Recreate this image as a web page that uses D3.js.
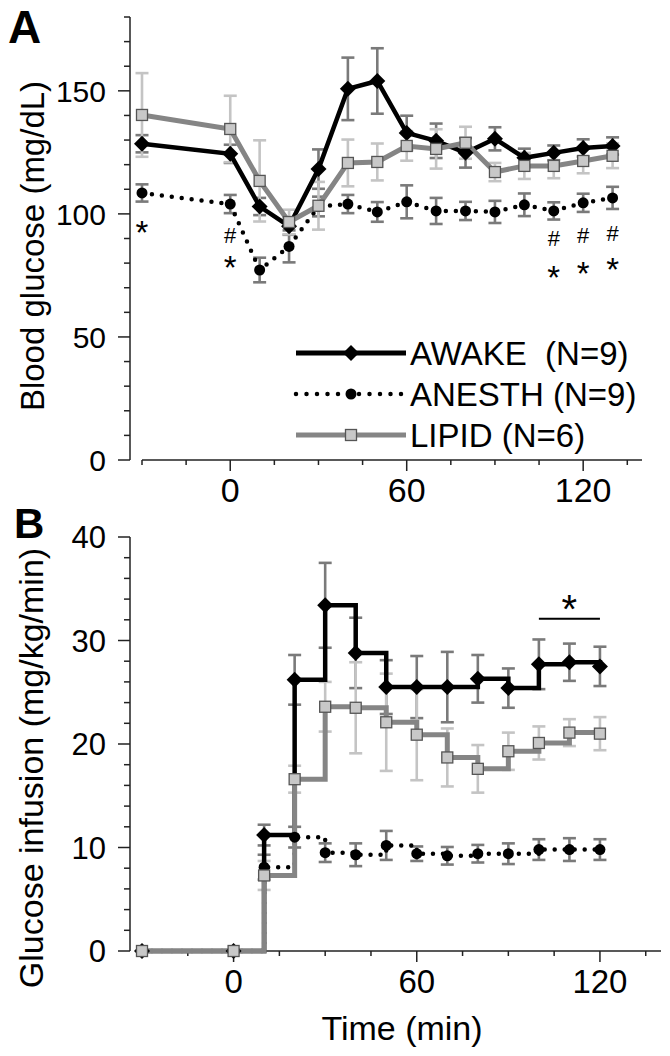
<!DOCTYPE html>
<html>
<head>
<meta charset="utf-8">
<script src="https://cdn.jsdelivr.net/npm/d3@7"></script>
<style>
  html, body { margin: 0; padding: 0; background: #fff; }
  text { font-family: "Liberation Sans", Arial, sans-serif; fill: #000; }
</style>
</head>
<body>
<svg id="chart" width="670" height="1056"></svg>
<script>
// ---------------- DATA ----------------
const seriesNames = ["AWAKE  (N=9)", "ANESTH (N=9)", "LIPID (N=6)"];

// Panel A: blood glucose (mg/dL)
const timesA = [-30, 0, 10, 20, 30, 40, 50, 60, 70, 80, 90, 100, 110, 120, 130];
const awakeA = [128.5, 124.4, 103, 95, 118.2, 150.8, 154, 132.9, 129.7, 124.8, 130.5, 122.8, 124.8, 126.8, 127.6];
const awakeAErr = [3.5, 3.7, 3.5, 3.5, 8, 12.7, 13.3, 7, 7, 6, 4.7, 3.7, 3, 3.5, 3.5];
const lipidA = [140.2, 134.5, 113.4, 96.7, 103.3, 120.7, 121.1, 127.6, 126.4, 128.9, 117, 119.5, 119.5, 121.5, 123.6];
const lipidAErr = [17, 13.5, 16.5, 5, 9.7, 9.5, 7.5, 6, 8, 6.5, 3.7, 5.3, 5, 5, 5];
const anesthA = [108.5, 104, 77.2, 86.8, 103, 104, 100.8, 104.9, 101.2, 101.2, 100.8, 103.7, 101.2, 104.5, 106.5];
const anesthAErr = [3.5, 3.7, 5, 6.5, 4, 3.7, 4, 6.7, 5.3, 3.7, 4.5, 4.6, 3.5, 3.7, 4.5];

// Panel B: glucose infusion (mg/kg/min)
const timesB = [-30, 0, 10, 20, 30, 40, 50, 60, 70, 80, 90, 100, 110, 120];
const awakeB = [0, 0, 11.2, 26.2, 33.4, 28.8, 25.5, 25.5, 25.5, 26.3, 25.4, 27.7, 27.9, 27.5];
const awakeBErr = [0, 0, 1.0, 2.4, 4.1, 3.4, 2.6, 3, 3.4, 2.3, 1.9, 2.4, 1.8, 1.9];
const lipidB = [0, 0, 7.3, 16.6, 23.6, 23.5, 22.1, 20.9, 18.7, 17.6, 19.3, 20.1, 21.1, 21.0];
const lipidBErr = [0, 0, 1.4, 1.3, 2.4, 4.4, 4.7, 4.4, 2.8, 2.3, 1.8, 1.6, 1.3, 1.6];
const anesthB = [0, 0, 8.1, 11.0, 9.5, 9.3, 10.2, 9.4, 9.2, 9.4, 9.4, 9.8, 9.8, 9.8];
const anesthBErr = [0, 0, 1.2, 1.0, 0.9, 1.1, 1.4, 0.7, 0.85, 0.85, 1.0, 1.0, 1.1, 1.0];

// tick values
const xTickValues = [-30, -15, 0, 15, 30, 45, 60, 75, 90, 105, 120, 135];
const xTickLabels = [0, 60, 120];
const yTickLabelsA = [0, 50, 100, 150];
const yTickLabelsB = [0, 10, 20, 30, 40];

// annotations [time, value, symbol]
const annotA = [[-30, 95.5, "*"], [0, 91.2, "#"], [0, 81.3, "*"],
                [110, 90.0, "#"], [120, 91.3, "#"], [130, 92.3, "#"],
                [110, 77.2, "*"], [120, 79.0, "*"], [130, 80.5, "*"]];
const sigBarB = [100, 120, 32.1];   // from, to, level
const sigStarB = [110, 33.9, "*"];

// ---------------- DRAW ----------------
const svg = d3.select("#chart");
svg.append("rect").attr("width", 670).attr("height", 1056).attr("fill", "#fff");

const DARK = "#7a7a7a", LIGHT = "#c4c4c4", LIPIDLINE = "#858585";

const diamond = (s) => `M0,${-s}L${s},0L0,${s}L${-s},0Z`;

function drawMarker(g, kind, x, y) {
  if (kind === "awake") {
    g.append("path").attr("d", diamond(8)).attr("transform", `translate(${x},${y})`)
      .attr("fill", "#000");
  } else if (kind === "lipid") {
    g.append("rect").attr("x", x - 5.5).attr("y", y - 5.5).attr("width", 11).attr("height", 11)
      .attr("fill", "#c8c8c8").attr("stroke", "#555").attr("stroke-width", 1.3);
  } else {
    g.append("circle").attr("cx", x).attr("cy", y).attr("r", 5.5).attr("fill", "#000");
  }
}

function panel(opts) {
  const { x, y, times, series, yMax, yMinorStep, yLabels, curve, tickFont } = opts;
  const g = svg.append("g");

  // y axis
  const yAx = g.append("g").attr("transform", `translate(130,0)`);
  yAx.append("line").attr("x1", 0).attr("x2", 0).attr("y1", y(0)).attr("y2", y(yMax))
    .attr("stroke", "#222").attr("stroke-width", 1.5);
  d3.range(0, yMax + 0.001, yMinorStep).forEach(v => {
    const major = yLabels.includes(v);
    yAx.append("line").attr("x1", major ? -12 : -6).attr("x2", 0)
      .attr("y1", y(v)).attr("y2", y(v)).attr("stroke", "#222").attr("stroke-width", 1.5);
  });
  yLabels.forEach(v => {
    yAx.append("text").attr("x", -24).attr("y", y(v)).attr("dy", "0.36em")
      .attr("text-anchor", "end").style("font-size", opts.yFont + "px").text(v);
  });

  // x axis
  const y0 = y(0);
  const xAx = g.append("g");
  xAx.append("line").attr("x1", x(-30)).attr("x2", x.range()[1]).attr("y1", y0).attr("y2", y0)
    .attr("stroke", "#222").attr("stroke-width", 1.5);
  xTickValues.forEach(t => {
    const major = xTickLabels.includes(t);
    xAx.append("line").attr("x1", x(t)).attr("x2", x(t)).attr("y1", y0).attr("y2", y0 + (major ? 11 : 5))
      .attr("stroke", "#222").attr("stroke-width", 1.5);
  });
  xTickLabels.forEach(t => {
    xAx.append("text").attr("x", x(t)).attr("y", y0 + 42).attr("text-anchor", "middle")
      .style("font-size", tickFont + "px").text(t);
  });

  const line = d3.line().x(d => x(d[0])).y(d => y(d[1])).curve(curve);
  const prepared = series.map(s => ({ s, pts: times.map((t, i) => [t, s.values[i], s.err[i]]) }));

  // layer 1: error bars
  prepared.forEach(({ s, pts }) => {
    pts.forEach(p => {
      if (!p[2]) return;
      const cx = x(p[0]), top = y(p[1] + p[2]), bot = y(p[1] - p[2]);
      g.append("line").attr("x1", cx).attr("x2", cx).attr("y1", top).attr("y2", bot)
        .attr("stroke", s.errColor).attr("stroke-width", 2.6);
      [top, bot].forEach(yy => g.append("line").attr("x1", cx - 6.5).attr("x2", cx + 6.5)
        .attr("y1", yy).attr("y2", yy).attr("stroke", s.errColor).attr("stroke-width", 2.6));
    });
  });
  // layer 2: lines
  prepared.forEach(({ s, pts }) => {
    const path = g.append("path").attr("d", line(pts)).attr("fill", "none")
      .attr("stroke", s.color).attr("stroke-width", s.width).attr("stroke-linejoin", "miter");
    if (s.dotted) path.attr("stroke-dasharray", "0 10").attr("stroke-linecap", "round");
  });
  // layer 3: markers
  prepared.forEach(({ s, pts }) => {
    pts.forEach(p => drawMarker(g, s.kind, x(p[0]), y(p[1])));
  });
  return g;
}

// ----- Panel A -----
const xA = d3.scaleLinear().domain([-30, 140]).range([142, 642]);
const yA = d3.scaleLinear().domain([0, 180]).range([460, 17]);
panel({
  x: xA, y: yA, times: timesA, yMax: 180, yMinorStep: 10, yLabels: yTickLabelsA,
  curve: d3.curveLinear, tickFont: 34, yFont: 30,
  series: [
    { kind: "anesth", values: anesthA, err: anesthAErr, color: "#000", width: 4.5, errColor: DARK, dotted: true },
    { kind: "awake", values: awakeA, err: awakeAErr, color: "#000", width: 4.5, errColor: DARK },
    { kind: "lipid", values: lipidA, err: lipidAErr, color: LIPIDLINE, width: 5, errColor: LIGHT }
  ]
});

annotA.forEach(a => {
  svg.append("text").attr("x", xA(a[0])).attr("y", yA(a[1]))
    .attr("text-anchor", "middle").attr("dy", a[2] === "*" ? "0.58em" : "0.36em")
    .style("font-size", a[2] === "*" ? "33px" : "22px").text(a[2]);
});

// legend
const legendY = [353, 394, 435];
const legendKinds = ["awake", "anesth", "lipid"];
const legendColors = ["#000", "#000", LIPIDLINE];
legendKinds.forEach((k, i) => {
  const ly = legendY[i];
  const l = svg.append("line").attr("x1", 296).attr("x2", 406).attr("y1", ly).attr("y2", ly)
    .attr("stroke", legendColors[i]).attr("stroke-width", 5);
  if (k === "anesth") l.attr("stroke-dasharray", "0 10.5").attr("stroke-linecap", "round").attr("stroke-width", 4.5);
  drawMarker(svg, k, 351, ly);
  svg.append("text").attr("x", 410).attr("y", ly).attr("dy", "0.36em")
    .style("font-size", "33px").style("white-space", "pre").text(seriesNames[i]);
});

// ----- Panel B -----
const xB = d3.scaleLinear().domain([-30, 140]).range([142, 661]);
const yB = d3.scaleLinear().domain([0, 40]).range([951, 537]);
panel({
  x: xB, y: yB, times: timesB, yMax: 40, yMinorStep: 2, yLabels: yTickLabelsB,
  curve: d3.curveStepAfter, tickFont: 33, yFont: 31,
  series: [
    { kind: "anesth", values: anesthB, err: anesthBErr, color: "#000", width: 4.5, errColor: DARK, dotted: true },
    { kind: "awake", values: awakeB, err: awakeBErr, color: "#000", width: 4.5, errColor: DARK },
    { kind: "lipid", values: lipidB, err: lipidBErr, color: LIPIDLINE, width: 5, errColor: LIGHT }
  ]
});
svg.append("line").attr("x1", xB(sigBarB[0])).attr("x2", xB(sigBarB[1]))
  .attr("y1", yB(sigBarB[2])).attr("y2", yB(sigBarB[2])).attr("stroke", "#000").attr("stroke-width", 2);
svg.append("text").attr("x", xB(sigStarB[0])).attr("y", yB(sigStarB[1])).attr("dy", "0.58em")
  .attr("text-anchor", "middle").style("font-size", "40px").text(sigStarB[2]);

// titles
svg.append("text").attr("x", 8).attr("y", 43).style("font-size", "46px").style("font-weight", "bold").text("A");
svg.append("text").attr("x", 14).attr("y", 538).style("font-size", "42px").style("font-weight", "bold").text("B");
svg.append("text").attr("transform", "translate(44,246) rotate(-90)").attr("text-anchor", "middle")
  .style("font-size", "33px").text("Blood glucose (mg/dL)");
svg.append("text").attr("transform", "translate(43,768) rotate(-90)").attr("text-anchor", "middle")
  .style("font-size", "34px").text("Glucose infusion (mg/kg/min)");
svg.append("text").attr("x", 402).attr("y", 1040).attr("text-anchor", "middle")
  .style("font-size", "34px").text("Time (min)");
</script>
</body>
</html>
